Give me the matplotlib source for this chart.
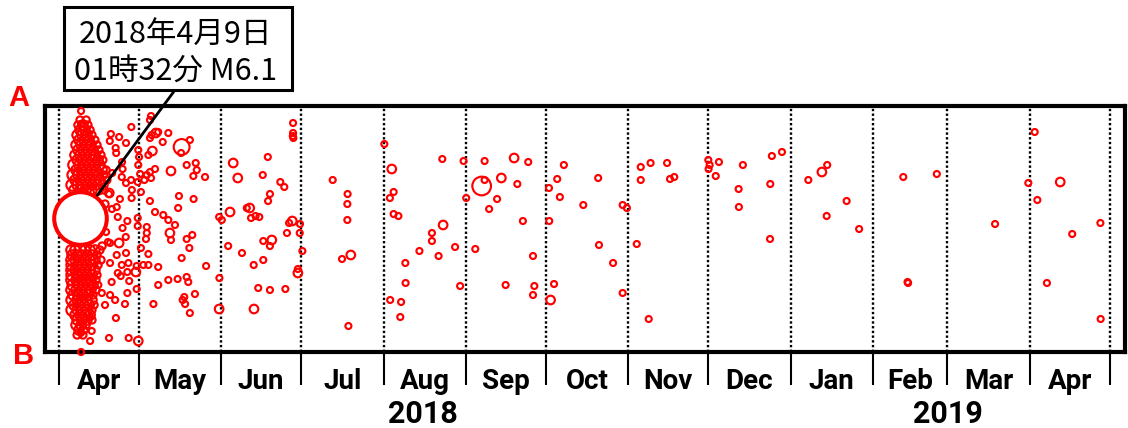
import numpy as np
import pandas as pd
import matplotlib
matplotlib.use("Agg")
import matplotlib.pyplot as plt
import matplotlib.transforms as mtransforms
from matplotlib.patches import Rectangle

# ---------------- data ----------------
# time = days since 2018-04-01 00:00, position = km from A (top) toward B (bottom)
BASE = pd.Timestamp("2018-04-01")

main_day = 8.06          # 2018-04-09 01:32
main_km = 11.4
main_mag = 6.1

# dense aftershock cluster (first weeks of April 2018)
apr_days = [7.9, 10.2, 7.1, 9.0, 10.9, 7.9, 9.8, 11.7, 6.8, 8.6, 10.5, 12.4, 7.5, 9.4, 11.3, 13.5,
            6.4, 8.3, 10.2, 12.0, 14.3, 7.1, 9.0, 10.9, 12.8, 15.0, 6.0, 7.9, 9.8, 11.7, 13.5, 15.8,
            6.8, 8.6, 10.5, 12.4, 14.7, 16.5, 5.6, 7.5, 9.4, 11.3, 13.2, 15.4,
            6.4, 8.3, 10.2, 12.0, 13.9, 16.2, 17.7, 5.3, 7.1, 9.0, 10.9, 12.8, 14.7, 16.9,
            6.0, 7.9, 9.8, 11.7, 13.5, 15.4, 18.0, 4.9, 6.8, 8.6, 10.5, 12.4, 14.3, 16.5,
            5.6, 7.9, 10.2, 12.4, 14.7, 16.9,
            18.8, 19.9, 17.7, 18.4, 16.2, 17.3, 16.9,
            4.5, 6.0, 7.9, 9.8, 11.7, 13.5, 15.4, 4.9, 6.8, 8.6, 10.5, 12.4, 14.3,
            4.5, 6.0, 7.9, 9.8, 11.7, 13.5, 15.8, 4.9, 6.8, 8.6, 10.5, 12.4, 14.7,
            4.5, 6.0, 7.9, 9.8, 11.7, 13.5, 4.9, 6.8, 8.6, 10.5, 12.4, 14.3,
            4.5, 6.4, 8.3, 10.2, 12.0, 13.9, 5.3, 7.1, 9.0, 10.9, 12.8,
            4.5, 6.4, 8.3, 10.2, 12.0, 13.9, 5.3, 7.1, 9.0, 10.9, 12.8,
            4.9, 6.8, 8.6, 10.5, 12.4, 5.6, 7.5, 9.4, 11.3, 13.2,
            4.9, 6.8, 8.6, 10.5, 12.4, 6.0, 7.9, 9.8, 11.7, 6.8, 8.6, 10.5, 12.4,
            6.4, 8.3, 10.2, 7.5, 9.4, 6.8, 9.0]
apr_km = [1.6, 1.6, 2.1, 2.1, 2.1, 2.6, 2.6, 2.6, 3.1, 3.1, 3.1, 3.1, 3.6, 3.6, 3.6, 3.6,
          4.1, 4.1, 4.1, 4.1, 4.1, 4.6, 4.6, 4.6, 4.6, 4.6, 5.1, 5.1, 5.1, 5.1, 5.1, 5.1,
          5.6, 5.6, 5.6, 5.6, 5.6, 5.6, 6.1, 6.1, 6.1, 6.1, 6.1, 6.1,
          6.6, 6.6, 6.6, 6.6, 6.6, 6.6, 6.6, 7.1, 7.1, 7.1, 7.1, 7.1, 7.1, 7.1,
          7.6, 7.6, 7.6, 7.6, 7.6, 7.6, 7.6, 8.1, 8.1, 8.1, 8.1, 8.1, 8.1, 8.1,
          8.6, 8.6, 8.6, 8.6, 8.6, 8.6,
          9.0, 10.5, 12.8, 13.8, 14.2, 10.0, 11.5,
          14.6, 14.6, 14.6, 14.6, 14.6, 14.6, 14.6, 15.1, 15.1, 15.1, 15.1, 15.1, 15.1,
          15.6, 15.6, 15.6, 15.6, 15.6, 15.6, 15.6, 16.1, 16.1, 16.1, 16.1, 16.1, 16.1,
          16.6, 16.6, 16.6, 16.6, 16.6, 16.6, 17.1, 17.1, 17.1, 17.1, 17.1, 17.1,
          17.6, 17.6, 17.6, 17.6, 17.6, 17.6, 18.1, 18.1, 18.1, 18.1, 18.1,
          18.6, 18.6, 18.6, 18.6, 18.6, 18.6, 19.1, 19.1, 19.1, 19.1, 19.1,
          19.6, 19.6, 19.6, 19.6, 19.6, 20.1, 20.1, 20.1, 20.1, 20.1,
          20.6, 20.6, 20.6, 20.6, 20.6, 21.1, 21.1, 21.1, 21.1, 21.6, 21.6, 21.6, 21.6,
          22.1, 22.1, 22.1, 22.6, 22.6, 23.1, 23.1]
apr_mag = [2.5, 2.5, 2.5, 3.2, 2.5, 3.2, 3.2, 2.5, 3.2, 3.2, 3.2, 2.5, 3.2, 3.2, 3.2, 2.5,
           3.2, 3.2, 3.2, 3.2, 2.5, 3.2, 3.2, 3.2, 3.2, 2.5, 3.2, 3.2, 3.2, 3.2, 3.2, 2.5,
           3.2, 3.2, 3.2, 3.2, 3.2, 2.5, 3.6, 3.2, 3.2, 3.2, 3.2, 3.2,
           3.2, 3.2, 3.2, 3.2, 3.2, 3.2, 2.5, 3.6, 3.2, 3.2, 3.2, 3.2, 3.2, 2.5,
           3.2, 3.2, 3.2, 3.2, 3.2, 3.2, 2.5, 3.6, 3.2, 3.2, 3.2, 3.2, 3.2, 3.2,
           3.2, 3.2, 3.2, 3.2, 3.2, 2.5,
           2.0, 2.0, 2.0, 2.0, 2.5, 2.5, 2.0,
           3.2, 3.2, 3.6, 3.2, 3.2, 3.2, 2.5, 3.2, 3.2, 3.2, 3.2, 3.2, 2.5,
           3.2, 3.2, 3.2, 3.2, 3.2, 3.2, 2.5, 3.6, 3.2, 3.2, 3.2, 3.2, 2.5,
           3.2, 3.2, 3.2, 3.2, 3.2, 3.2, 3.6, 3.2, 3.2, 3.2, 3.2, 2.5,
           3.2, 3.2, 3.2, 3.2, 3.2, 2.5, 3.6, 3.2, 3.2, 3.2, 3.2,
           3.2, 3.2, 3.2, 3.2, 3.2, 2.5, 3.2, 3.2, 3.2, 3.2, 2.5,
           3.6, 3.2, 3.2, 3.2, 3.2, 3.2, 3.2, 3.2, 3.2, 2.5,
           3.6, 3.2, 3.2, 3.2, 2.5, 3.2, 3.2, 3.2, 3.2, 3.2, 3.2, 3.2, 2.5,
           3.2, 3.2, 2.5, 3.2, 2.5, 2.5, 2.5]

# scattered events in late April
fringe_days = [8.3, 8.4, 27.2, 19.5, 22.6, 25.2, 21.3, 19.1, 23.7, 21.5, 23.9, 20.0, 23.6, 27.1,
               18.9, 22.9, 25.2, 27.4, 27.3, 21.7, 22.1, 25.7, 29.6, 23.9, 25.1, 22.6, 19.2,
               21.7, 25.2, 19.2, 23.6, 25.7, 26.1, 22.1, 23.2, 19.8, 26.4, 14.8, 16.1, 19.2,
               21.1, 17.3, 24.8, 25.7, 21.4, 11.7, 12.3, 8.2, 11.7, 18.8, 26.2, 8.3]
fringe_km = [0.7, 2.0, 2.3, 3.0, 3.3, 3.9, 4.4, 3.7, 5.8, 4.9, 6.5, 6.9, 7.3, 7.6,
             8.9, 9.5, 7.9, 8.6, 9.4, 10.3, 11.3, 11.7, 12.2, 12.4, 13.3, 13.9, 13.9,
             15.1, 14.9, 15.9, 16.1, 16.8, 15.9, 16.9, 17.2, 17.8, 17.7, 18.1, 18.9, 19.1,
             19.6, 20.1, 20.0, 18.9, 21.4, 21.3, 22.7, 22.9, 23.7, 23.4, 23.4, 24.8]
fringe_mag = [2.0, 2.0, 2.0, 2.0, 2.0, 2.0, 2.0, 2.0, 2.0, 2.0, 2.0, 2.0, 2.0, 2.0,
              3.0, 2.0, 2.0, 2.0, 2.0, 2.0, 2.0, 2.0, 2.0, 2.0, 2.0, 3.0, 2.0,
              2.0, 2.0, 2.0, 2.0, 2.0, 2.0, 2.0, 2.0, 2.0, 2.0, 2.0, 2.0, 2.0,
              2.0, 2.0, 2.0, 2.0, 2.0, 2.0, 2.0, 2.0, 2.0, 2.0, 2.0, 2.0]

# May 2018
may_days = [34.6, 34.2, 37.3, 36.4, 34.8, 34.2, 41.1, 39.0, 46.1, 49.2, 45.9, 29.8, 35.1, 33.6,
            30.1, 29.8, 51.4, 48.0, 51.8, 42.1, 36.1, 34.2, 33.0, 30.5, 50.5, 54.9, 34.6, 32.1,
            29.6, 30.8, 45.1, 50.6, 34.2, 44.8, 36.1, 39.2, 41.1, 43.6, 29.6, 33.0, 33.0, 32.7,
            41.7, 42.1, 48.0, 50.1, 49.0, 30.8, 33.6, 46.1, 55.3, 37.3, 33.6, 31.7, 29.2, 28.9,
            48.0, 48.6, 44.6, 41.1, 37.3, 29.2, 51.1, 47.1, 46.5, 47.4, 35.5, 49.2, 29.8]
may_km = [1.2, 1.6, 2.8, 2.9, 3.1, 3.4, 2.9, 3.8, 4.3, 3.6, 4.9, 4.6, 4.7, 5.1,
          5.3, 6.1, 5.9, 6.1, 6.6, 6.7, 6.5, 6.8, 7.1, 7.0, 7.2, 7.3, 7.4, 7.6,
          7.8, 8.8, 9.2, 9.5, 9.7, 10.4, 10.8, 11.1, 11.6, 12.1, 11.4, 12.3, 12.9, 13.5,
          12.9, 13.6, 13.5, 13.1, 14.4, 14.4, 15.0, 15.4, 16.2, 16.3, 16.1, 16.1, 16.2, 16.8,
          17.3, 17.8, 17.5, 17.6, 18.1, 18.5, 19.0, 19.3, 19.6, 20.0, 20.0, 20.9, 23.7]
may_mag = [2.0, 2.0, 2.0, 3.0, 2.0, 2.0, 2.0, 2.0, 4.4, 2.0, 2.0, 2.0, 3.0, 2.0,
           2.0, 2.0, 2.0, 2.0, 2.0, 3.0, 2.0, 2.0, 2.0, 2.0, 2.0, 2.0, 2.0, 2.0,
           2.0, 2.0, 2.0, 2.0, 2.0, 2.0, 2.0, 2.0, 2.0, 2.0, 2.0, 2.0, 2.0, 2.0,
           3.0, 2.0, 2.0, 2.0, 2.0, 2.0, 2.0, 2.0, 2.0, 2.0, 2.0, 2.0, 2.0, 3.0,
           2.0, 2.0, 2.0, 2.0, 2.0, 2.0, 2.0, 2.0, 2.0, 2.0, 2.0, 2.0, 3.0]

# June - July 2018
jun_days = [88.0, 88.0, 87.9, 88.1, 65.5, 67.2, 78.5, 76.6, 83.2, 84.7, 79.3, 78.6, 64.3, 60.2,
            61.2, 70.6, 71.7, 72.2, 73.9, 75.3, 86.5, 87.7, 90.6, 85.7, 90.5, 76.8, 80.0, 79.3,
            63.6, 68.8, 76.8, 73.2, 91.5, 89.8, 89.8, 60.3, 74.9, 79.3, 85.1, 60.2, 73.3]
jun_km = [1.9, 2.9, 3.2, 3.4, 5.9, 7.4, 5.3, 7.1, 7.8, 8.3, 9.0, 9.7, 10.8, 11.3,
          11.6, 10.4, 10.4, 11.4, 11.2, 11.3, 11.9, 11.7, 12.0, 12.9, 12.9, 13.7, 13.6, 14.2,
          14.2, 14.9, 15.6, 16.1, 14.7, 16.5, 16.9, 17.4, 18.4, 18.6, 18.5, 20.5, 20.5]
jun_mag = [2.0, 2.0, 2.0, 2.0, 3.0, 3.0, 2.0, 2.0, 2.0, 2.0, 2.0, 2.0, 3.0, 2.0,
           2.0, 2.0, 3.0, 2.0, 2.0, 2.0, 2.0, 3.0, 2.0, 2.0, 2.0, 2.0, 3.0, 2.0,
           2.0, 2.0, 2.0, 2.0, 2.0, 2.0, 3.0, 2.0, 2.0, 2.0, 2.0, 3.0, 3.0]

# July 2018 - April 2019
late_days = [102.9, 108.5, 108.4, 108.4, 109.7, 106.4, 108.8, 122.3, 125.1, 125.8, 124.4, 125.8,
             127.6, 130.2, 130.3, 124.5, 128.6, 128.3, 135.5, 140.2, 140.2, 142.7, 144.4, 144.1,
             148.9, 150.8, 152.1, 153.1, 156.5, 158.9, 160.0, 160.0, 161.7, 164.7, 166.3, 167.9,
             171.1, 172.3, 176.4, 174.4, 178.2, 178.7, 178.2, 184.2, 184.3, 186.1, 184.8, 187.3,
             189.8, 188.3, 197.1, 202.7, 203.0, 208.3, 211.9, 213.5, 211.9, 217.2, 221.7, 218.7,
             218.7, 222.4, 228.6, 229.7, 231.3, 244.1, 244.6, 244.2, 248.1, 246.9, 257.1, 255.5,
             255.6, 267.3, 267.4, 268.0, 271.8, 281.7, 286.8, 288.8, 288.6, 296.1, 300.8, 317.4,
             319.2, 319.0, 330.0, 351.9, 366.8, 364.4, 367.8, 376.4, 371.4, 380.9, 391.5, 391.6]
late_km = [7.6, 9.0, 10.0, 11.6, 15.1, 15.5, 22.2, 4.0, 6.5, 8.8, 9.4, 11.0,
           11.2, 15.9, 17.9, 19.6, 19.8, 21.3, 14.7, 12.9, 13.7, 15.2, 12.1, 5.5,
           14.3, 18.2, 5.7, 9.4, 14.5, 8.2, 7.6, 5.7, 10.5, 9.5, 7.4, 18.1,
           5.4, 8.0, 5.8, 11.7, 15.2, 18.2, 19.1, 8.4, 11.7, 18.0, 19.6, 7.5,
           6.1, 9.3, 10.1, 7.4, 14.1, 15.9, 10.1, 10.4, 18.9, 14.0, 21.5, 6.3,
           7.6, 5.9, 5.9, 7.5, 7.3, 5.6, 6.1, 6.5, 5.8, 7.2, 6.1, 8.5,
           10.3, 13.5, 8.0, 5.2, 4.8, 7.6, 6.8, 6.1, 11.2, 9.7, 12.5, 7.3,
           17.9, 17.8, 7.0, 12.0, 2.8, 7.9, 9.6, 7.8, 17.9, 13.0, 11.9, 21.5]
late_mag = [2.0, 2.0, 2.0, 2.0, 3.0, 2.0, 2.0, 2.0, 3.0, 2.0, 2.0, 2.0,
            2.0, 2.0, 2.0, 2.0, 2.0, 2.0, 2.0, 2.0, 2.0, 2.0, 3.0, 2.0,
            2.0, 2.0, 2.0, 2.0, 2.0, 4.6, 2.0, 2.0, 2.0, 2.0, 3.0, 2.0,
            3.0, 2.0, 2.0, 2.0, 2.0, 2.0, 2.0, 2.0, 2.0, 2.0, 3.0, 2.0,
            2.0, 2.0, 2.0, 2.0, 2.0, 2.0, 2.0, 2.0, 2.0, 2.0, 2.0, 2.0,
            2.0, 2.0, 2.0, 2.0, 2.0, 2.0, 2.0, 2.0, 2.0, 2.0, 2.0, 2.0,
            2.0, 2.0, 2.0, 2.0, 2.0, 2.0, 3.0, 2.0, 2.0, 2.0, 2.0, 2.0,
            2.0, 2.0, 2.0, 2.0, 2.0, 2.0, 2.0, 3.0, 2.0, 2.0, 2.0, 2.0]

month_labels = ["Apr", "May", "Jun", "Jul", "Aug", "Sep", "Oct", "Nov", "Dec",
                "Jan", "Feb", "Mar", "Apr"]
year_labels = ["2018", "2019"]
year_label_dates = ["2018-08-16", "2019-03-01"]
annot_lines = ["2018年4月9日", "01時32分 M6.1"]
end_labels = ["A", "B"]

# ---------------- helpers ----------------
DPI = 100
W, H = 1128, 428


def to_dates(d):
    return BASE + pd.to_timedelta(np.asarray(d, dtype=float), unit="D")


def mag_to_s(m):
    r_px = np.interp(np.asarray(m, dtype=float), [2.0, 2.5, 3.0, 3.5, 4.5, 6.1],
                     [3.0, 3.6, 4.3, 5.4, 8.2, 26.3])
    d_pt = 2 * r_px * 72.0 / DPI
    return d_pt ** 2


RED = "#ff0000"

fig = plt.figure(figsize=(W / DPI, H / DPI), dpi=DPI)
ax_left, ax_right, ax_top, ax_bot = 45, 1125, 106, 351.7
ax = fig.add_axes([ax_left / W, (H - ax_bot) / H, (ax_right - ax_left) / W, (ax_bot - ax_top) / H])

ax.set_xlim(to_dates([-5.26])[0], to_dates([400.75])[0])
ax.set_ylim(24.77, 0.2)

# month boundary dashed lines
month_starts = pd.date_range("2018-04-01", "2019-05-01", freq="MS")
for m in month_starts:
    ax.axvline(m, color="black", lw=1.7, ls=(0, (1, 1)), zorder=1)

# aftershocks
for dd, kk, mm in [(apr_days, apr_km, apr_mag), (fringe_days, fringe_km, fringe_mag),
                   (may_days, may_km, may_mag), (jun_days, jun_km, jun_mag),
                   (late_days, late_km, late_mag)]:
    ax.scatter(to_dates(dd), kk, s=mag_to_s(mm), facecolors="none", edgecolors=RED,
               linewidths=1.55, zorder=3, clip_on=False)

# main shock
ax.scatter(to_dates([main_day]), [main_km], s=mag_to_s([main_mag]), facecolors="white",
           edgecolors=RED, linewidths=2.9, zorder=4)

for sp in ax.spines.values():
    sp.set_linewidth(3)
    sp.set_zorder(2.5)

ax.set_yticks([])
ax.set_xticks(month_starts)
ax.tick_params(axis="x", which="major", length=24, width=1.5, direction="out",
               labelbottom=False, color="black")

# month labels
trans = mtransforms.blended_transform_factory(ax.transData, ax.transAxes)
ax_h = ax_bot - ax_top
for i, lab in enumerate(month_labels):
    mid = month_starts[i] + (month_starts[i + 1] - month_starts[i]) / 2
    ax.text(mid, (ax_bot - 389) / ax_h, lab, transform=trans, ha="center", va="baseline",
            fontsize=20, fontweight="bold", family="Roboto")
for lab, dstr in zip(year_labels, year_label_dates):
    ax.text(pd.Timestamp(dstr), (ax_bot - 423) / ax_h, lab, transform=trans, ha="center",
            va="baseline", fontsize=22, fontweight="bold", family="Roboto")

# A / B
fig.text(19 / W, 1 - 106 / H, end_labels[0], color=RED, fontsize=21, fontweight="bold",
         family="Liberation Sans", ha="center", va="baseline")
fig.text(23.5 / W, 1 - 364 / H, end_labels[1], color=RED, fontsize=21, fontweight="bold",
         family="Liberation Sans", ha="center", va="baseline")

# annotation box
box = Rectangle((64 / W, 1 - 90 / H), 228 / W, 83 / H, transform=fig.transFigure,
                facecolor="white", edgecolor="black", lw=2.2, zorder=10)
fig.add_artist(box)
fig.text(175.5 / W, 1 - 34.5 / H, annot_lines[0], ha="center", va="center", fontsize=22,
         family=["Noto Sans CJK JP", "DejaVu Sans"], zorder=11)
fig.text(176 / W, 1 - 72 / H, annot_lines[1], ha="center", va="center", fontsize=22,
         family=["Noto Sans CJK JP", "DejaVu Sans"], zorder=11)

main_r_pt = np.sqrt(mag_to_s([main_mag])[0]) / 2
ax.annotate("", xy=(to_dates([main_day])[0], main_km), xycoords="data",
            xytext=(175 / W, 1 - 90 / H), textcoords="figure fraction",
            arrowprops=dict(arrowstyle="-", lw=2, color="black", shrinkA=0,
                            shrinkB=main_r_pt + 1.5),
            annotation_clip=False, zorder=6)

fig.savefig("out.png", dpi=DPI)
